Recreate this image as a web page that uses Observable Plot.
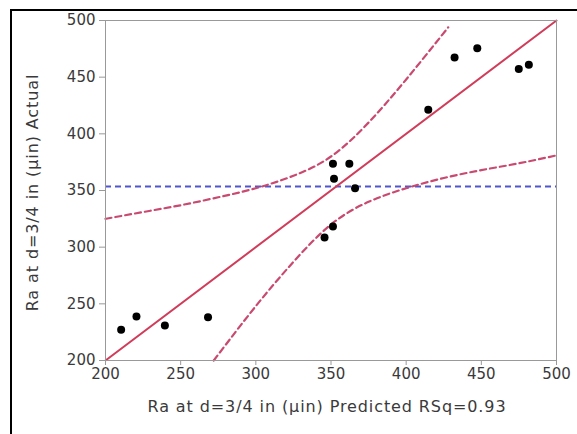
<!DOCTYPE html>
<html>
<head>
<meta charset="utf-8">
<script src="https://cdn.jsdelivr.net/npm/d3@7"></script>
<script src="https://cdn.jsdelivr.net/npm/@observablehq/plot@0.6"></script>
<style>
  html, body { margin: 0; padding: 0; background: #fff; }
  #wrap { position: relative; width: 577px; height: 434px; overflow: hidden; }
  #border { position: absolute; left: 10px; top: 9px; width: 600px; height: 500px;
            border-left: 2px solid #000; border-top: 2px solid #000; pointer-events: none; }
  .axlab { letter-spacing: 0.9px; }
</style>
</head>
<body>
<div id="wrap"><div id="border"></div></div>
<script>
// Observed points: predicted (x) vs actual (y)
const predicted = [210.4, 220.6, 239.5, 268.2, 345.7, 351.3, 351.3, 352.0, 362.2, 366.0, 414.7, 432.2, 447.3, 474.9, 481.6];
const actual    = [227.1, 238.8, 230.9, 238.2, 308.6, 318.3, 373.6, 360.3, 373.6, 352.0, 421.2, 467.4, 475.6, 457.1, 461.0];

// Fit line (actual = predicted)
const fitX = [200, 500];
const fitY = [200, 500];

// Mean of actual (horizontal dashed line)
const meanActual = 353.6;

// Confidence curves
const upperX = [200, 225, 250, 275, 300, 325, 350, 375, 400, 428];
const upperY = [325, 331, 337, 344, 352, 363, 380, 410, 448, 494];
const lowerX = [272, 300, 325, 350, 375, 400, 425, 450, 475, 500];
const lowerY = [200, 248, 287, 320, 340, 352, 361, 368, 374, 381];

const ticks = [200, 250, 300, 350, 400, 450, 500];
const xLabel = "Ra at d=3/4 in (µin) Predicted RSq=0.93";
const yLabel = "Ra at d=3/4 in (µin) Actual";

const pts = predicted.map((p, i) => ({p, a: actual[i]}));
const fit = fitX.map((x, i) => ({x, y: fitY[i]}));
const upper = upperX.map((x, i) => ({x, y: upperY[i]}));
const lower = lowerX.map((x, i) => ({x, y: lowerY[i]}));

const chart = Plot.plot({
  width: 577,
  height: 434,
  marginLeft: 105,
  marginRight: 21,
  marginTop: 20,
  marginBottom: 74,
  style: {fontFamily: "'DejaVu Sans', sans-serif", fontSize: "15px", color: "#3a3a3a", background: "transparent"},
  x: {domain: [200, 500]},
  y: {domain: [200, 500]},
  marks: [
    Plot.ruleY([meanActual], {stroke: "#5056d0", strokeWidth: 2, strokeDasharray: "6,4"}),
    Plot.line(upper, {x: "x", y: "y", curve: "natural", stroke: "#c84a70", strokeWidth: 2.2, strokeDasharray: "6,4"}),
    Plot.line(lower, {x: "x", y: "y", curve: "natural", stroke: "#c84a70", strokeWidth: 2.2, strokeDasharray: "6,4"}),
    Plot.line(fit, {x: "x", y: "y", stroke: "#d03c5a", strokeWidth: 2}),
    Plot.dot(pts, {x: "p", y: "a", r: 4, fill: "#000", stroke: "none"}),
    Plot.frame({stroke: "#999"}),
    Plot.axisX({ticks, tickSize: 5, tickPadding: 3, label: null, stroke: "#999"}),
    Plot.axisY({ticks, tickSize: 6, tickPadding: 4, label: null, stroke: "#999"}),
    Plot.text([xLabel], {frameAnchor: "bottom", dy: 51, dx: -4, textAnchor: "middle", fill: "#3a3a3a", fontSize: 16, className: "axlab"}),
    Plot.text([yLabel], {frameAnchor: "left", dx: -73, dy: 2, rotate: -90, textAnchor: "middle", fill: "#3a3a3a", fontSize: 16, className: "axlab"})
  ]
});
document.getElementById("wrap").prepend(chart);
</script>
</body>
</html>
